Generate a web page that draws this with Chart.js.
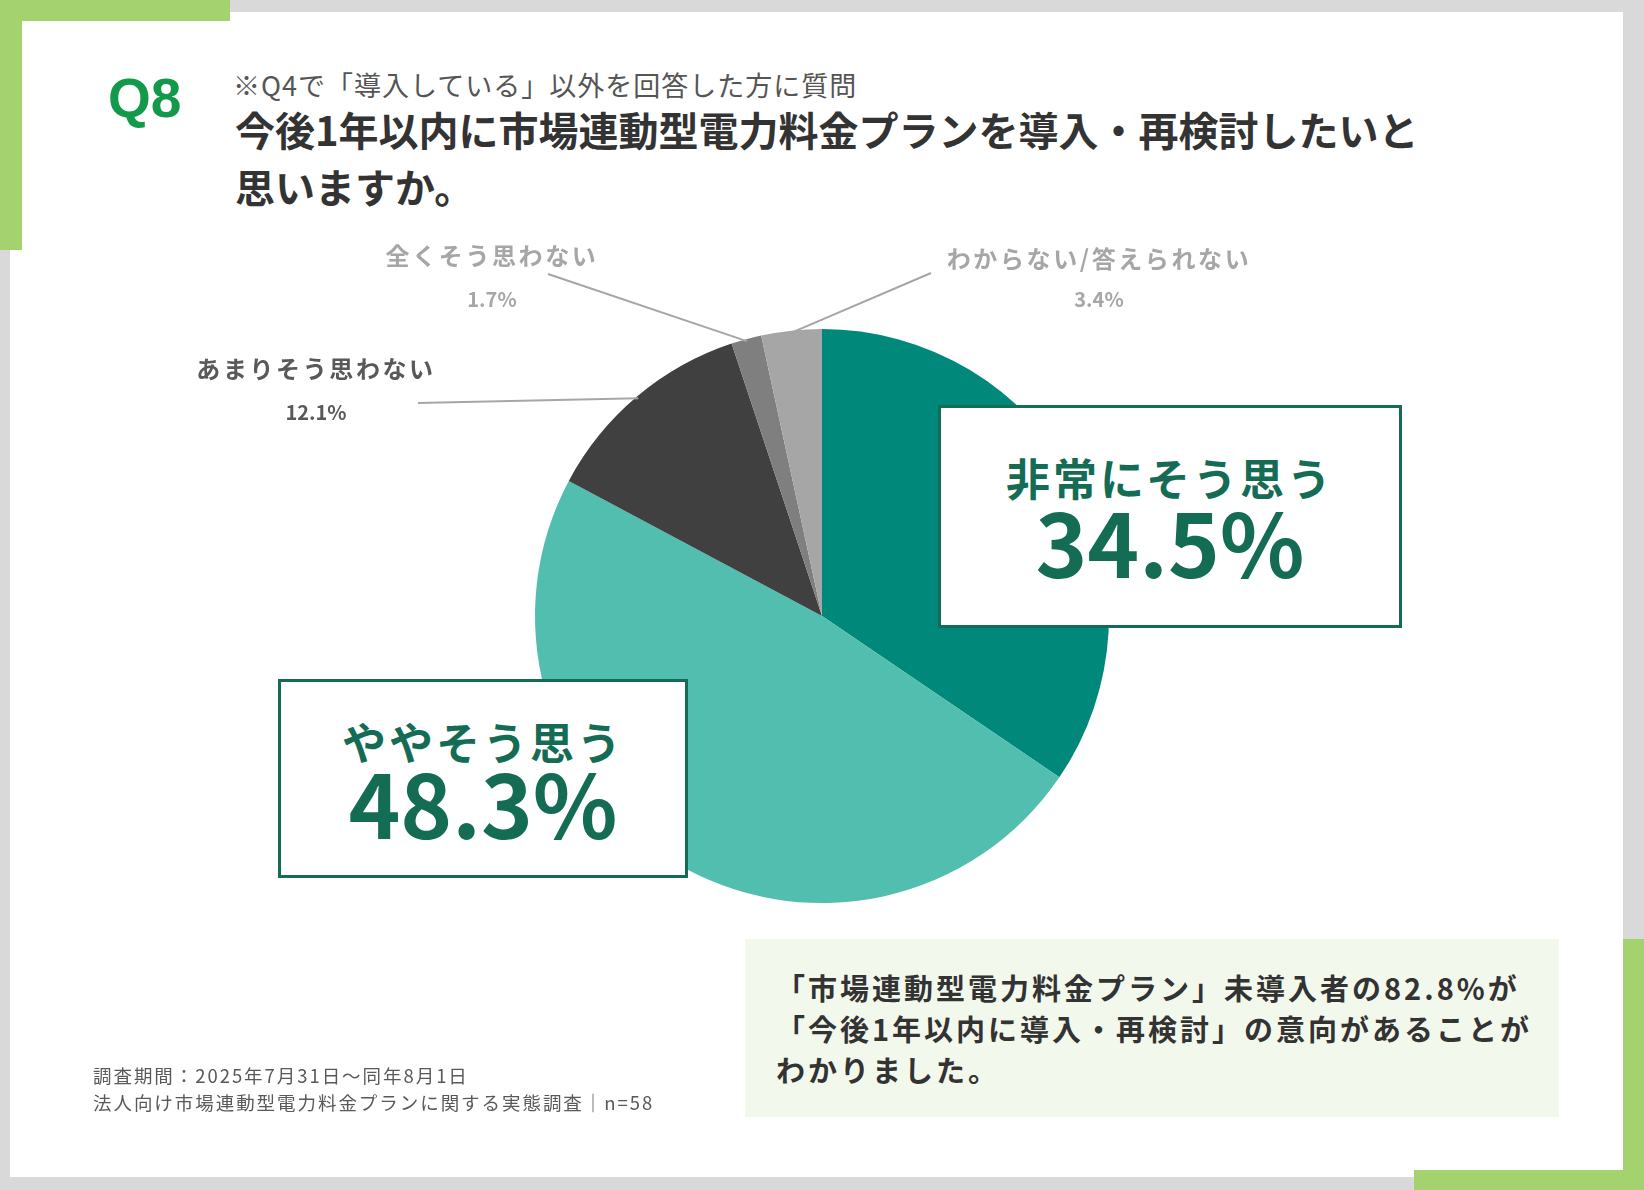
<!DOCTYPE html>
<html lang="ja">
<head>
<meta charset="utf-8">
<script src="https://cdn.jsdelivr.net/npm/chart.js@4.4.1/dist/chart.umd.min.js"></script>
<style>
  html, body { margin: 0; padding: 0; }
  body { width: 1644px; height: 1190px; background: #d9d9d9; position: relative; overflow: hidden;
         font-family: "Noto Sans CJK JP", "Noto Sans", sans-serif; }
  .abs { position: absolute; }
  .card { left: 10px; top: 12px; width: 1613px; height: 1165px; background: #fff; }
  .green { background: #a4d26f; }
  .q8 { left: 108px; top: 71px; font: 700 55px/55px "Liberation Sans", Arial, sans-serif; color: #12994a; }
  .sub { left: 233px; top: 71px; font-size: 27px; line-height: 27px; color: #555; letter-spacing: 1px; white-space: nowrap; }
  .title { left: 235px; top: 101px; font-size: 40px; line-height: 57px; font-weight: 700; color: #333; letter-spacing: 0; white-space: nowrap; }
  #wrap { left: 0; top: 0; width: 1644px; height: 1190px; }
  .box { background: #fff; border: 3px solid #146c55; box-sizing: border-box; color: #146c55; font-weight: 700; }
  .line { position: absolute; left: 0; right: 0; text-align: center; white-space: nowrap; }
  .small { width: 400px; text-align: center; font-weight: 700; font-size: 24px; line-height: 24px; letter-spacing: 2.6px; white-space: nowrap; }
  .note { left: 745px; top: 939px; width: 814px; height: 178px; background: #f3f8ed; }
  .noteText { left: 776px; top: 967px; font-size: 29px; line-height: 41px; font-weight: 700; color: #333; letter-spacing: 3px; white-space: nowrap; }
  .foot { left: 93px; top: 1062px; font-size: 18.5px; line-height: 27px; color: #595959; letter-spacing: 1.95px; white-space: nowrap; }
</style>
</head>
<body>
<div class="abs card"></div>
<div class="abs green" style="left:0;top:0;width:230px;height:21px"></div>
<div class="abs green" style="left:0;top:0;width:22px;height:250px"></div>
<div class="abs green" style="left:1623px;top:939px;width:21px;height:251px"></div>
<div class="abs green" style="left:1414px;top:1170px;width:230px;height:20px"></div>

<div class="abs q8">Q8</div>
<div class="abs sub">※Q4で「導入している」以外を回答した方に質問</div>
<div class="abs title">今後1年以内に市場連動型電力料金プランを導入・再検討したいと<br>思いますか。</div>

<div class="abs" id="wrap"><canvas id="pie"></canvas></div>
<div id="labels"></div>

<div class="abs note"></div>
<div class="abs noteText">「市場連動型電力料金プラン」未導入者の82.8%が<br>「今後1年以内に導入・再検討」の意向があることが<br>わかりました。</div>
<div class="abs foot">調査期間：2025年7月31日〜同年8月1日<br>法人向け市場連動型電力料金プランに関する実態調査｜n=58</div>

<script>
// 回答の選択肢と割合（%）
const categories = ['非常にそう思う', 'ややそう思う', 'あまりそう思わない', '全くそう思わない', 'わからない/答えられない'];
const shares = [34.5, 48.3, 12.1, 1.7, 3.4];
const sliceColors = ['#00897a', '#52beb0', '#404040', '#7f7f7f', '#a6a6a6'];

const fmt = v => v.toFixed(1) + '%';
const labelsEl = document.getElementById('labels');

// 大きい枠付きラベル（上位2項目）
const boxes = [
  { i: 0, left: 938, top: 405, w: 464, h: 223, lc: 72, pc: 137 },
  { i: 1, left: 278, top: 679, w: 410, h: 199, lc: 62, pc: 124 }
];
boxes.forEach(b => {
  const d = document.createElement('div');
  d.className = 'abs box';
  d.style.cssText = `left:${b.left}px;top:${b.top}px;width:${b.w}px;height:${b.h}px;`;
  d.innerHTML =
    `<div class="line" style="top:${b.lc - 22 - 3}px;font-size:44px;line-height:44px;letter-spacing:3px">${categories[b.i]}</div>` +
    `<div class="line" style="top:${b.pc - 46 - 3}px;font-size:88px;line-height:88px;">${fmt(shares[b.i])}</div>`;
  labelsEl.appendChild(d);
});

// 小さいラベルと引き出し線の位置
const callouts = [
  { i: 2, x: 316, y1: 368, y2: 413, end: [418, 403], color: '#595959' },
  { i: 3, x: 492, y1: 255, y2: 300, end: [548, 274], color: '#a6a6a6' },
  { i: 4, x: 1099, y1: 258, y2: 300, end: [931, 273], color: '#a6a6a6' }
];
callouts.forEach(c => {
  const a = document.createElement('div');
  a.className = 'abs small';
  a.style.cssText = `left:${c.x - 200}px;top:${c.y1 - 12}px;color:${c.color}`;
  a.textContent = categories[c.i];
  const b = document.createElement('div');
  b.className = 'abs small';
  b.style.cssText = `left:${c.x - 200}px;top:${c.y2 - 11}px;color:${c.color};font-size:20px;line-height:20px;letter-spacing:0`;
  b.textContent = fmt(shares[c.i]);
  labelsEl.appendChild(a);
  labelsEl.appendChild(b);
});

const leaderLines = {
  id: 'leaderLines',
  afterDatasetsDraw(chart) {
    const ctx = chart.ctx;
    const meta = chart.getDatasetMeta(0);
    ctx.save();
    ctx.strokeStyle = '#a6a6a6';
    ctx.lineWidth = 2;
    callouts.forEach(c => {
      const arc = meta.data[c.i];
      const mid = (arc.startAngle + arc.endAngle) / 2;
      const r = arc.outerRadius - 2;
      ctx.beginPath();
      ctx.moveTo(arc.x + Math.cos(mid) * r, arc.y + Math.sin(mid) * r);
      ctx.lineTo(c.end[0], c.end[1]);
      ctx.stroke();
    });
    ctx.restore();
  }
};

new Chart(document.getElementById('pie'), {
  type: 'pie',
  data: {
    labels: categories,
    datasets: [{
      data: shares,
      backgroundColor: sliceColors,
      borderWidth: 0
    }]
  },
  options: {
    responsive: true,
    maintainAspectRatio: false,
    animation: false,
    layout: { padding: { left: 535, right: 535, top: 329, bottom: 287 } },
    plugins: {
      legend: { display: false },
      tooltip: { enabled: false }
    }
  },
  plugins: [leaderLines]
});
</script>
</body>
</html>
